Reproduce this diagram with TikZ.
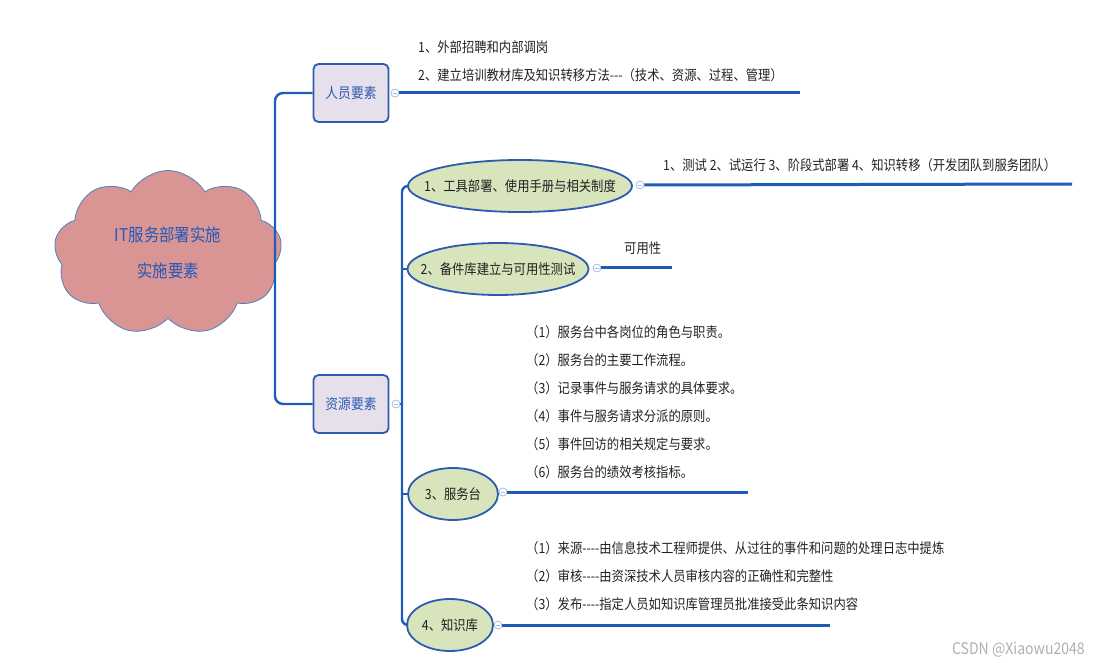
\documentclass[tikz,border=0pt]{standalone}
\usepackage{fontspec}
\setmainfont{Noto Sans CJK SC}[FakeStretch=0.88]
\usepackage{xcolor}
\usetikzlibrary{shapes.geometric, shapes.symbols, positioning, calc}
\definecolor{linkblue}{HTML}{1F5CBA}
\definecolor{boxedge}{HTML}{2C5BB0}
\definecolor{boxfill}{HTML}{E5E0EC}
\definecolor{leaffill}{HTML}{D8E4BC}
\definecolor{cloudfill}{HTML}{D99594}
\definecolor{cloudedge}{HTML}{4F81BD}
\definecolor{cloudtext}{HTML}{2458B8}
\definecolor{toggleedge}{HTML}{A7BCE3}
\definecolor{marktext}{HTML}{B0B0B0}
\definecolor{notetext}{HTML}{222222}
\newcommand{\dashes}{-\kern0pt-\kern0pt-}
\newcommand{\longdashes}{-\kern0pt-\kern0pt-\kern0pt-}

\begin{document}
\begin{tikzpicture}[
    x=1pt, y=-1pt,
    % Node styles
    topic/.style={cloud, cloud puffs=9, cloud puff arc=120, aspect=1.4, draw=cloudedge, fill=cloudfill, thick, minimum width=228pt, minimum height=165pt, align=center, font=\fontsize{17.5}{36}\selectfont, text=cloudtext},
    branch/.style={rectangle, draw=boxedge, fill=boxfill, line width=1.8pt, minimum width=75pt, minimum height=58pt, rounded corners=5pt, align=center, font=\fontsize{14.5}{15}\selectfont, text=boxedge},
    leaf/.style={ellipse, draw=boxedge, fill=leaffill, line width=1.8pt, minimum height=52pt, inner xsep=-40pt, align=center, font=\fontsize{14}{15}\selectfont, text=notetext},
    toggle/.style={circle, draw=toggleedge, fill=white, line width=0.8pt, minimum size=8pt, inner sep=0pt, path picture={\draw[toggleedge, line width=0.8pt] ([xshift=-2pt]path picture bounding box.center) -- ([xshift=2pt]path picture bounding box.center);}},
    note/.style={anchor=south west, inner sep=0pt, align=left, font=\fontsize{14}{28}\selectfont, text=notetext},
    % Connector styles
    trunk/.style={draw=linkblue, line width=2.4pt, rounded corners=8pt},
    stem/.style={draw=linkblue, line width=3pt},
]
\useasboundingbox (0,0) rectangle (1098,663);

% ============================================================================
% CENTRAL TOPIC
% ============================================================================
\node[topic] (cloudtopic) at (168,253) {IT服务部署实施\\实施要素};

% ============================================================================
% FIRST LEVEL
% ============================================================================
\node[branch] (staff) at (351,93) {人员要素};
\node[branch] (resource) at (351,404) {资源要素};

% Trunk from the topic
\draw[trunk] (staff.west) -- (275,93) -- (275,404) -- (resource.west);

% ============================================================================
% STAFF DETAILS
% ============================================================================
\node[toggle] (stafftoggle) at (395,93) {};
\coordinate (staffend) at (800,93);
\draw[stem] (stafftoggle.east) -- (staffend);
\node[note] (staffnote) at (418,82) {1、外部招聘和内部调岗\\2、建立培训教材库及知识转移方法\dashes（技术、资源、过程、管理）};

% ============================================================================
% RESOURCE ITEMS
% ============================================================================
\node[toggle] (resourcetoggle) at (396,404) {};

\node[leaf, minimum width=224pt] (tools) at (520,186) {1、工具部署、使用手册与相关制度};
\node[leaf, minimum width=181pt] (spare) at (498,269) {2、备件库建立与可用性测试};
\node[leaf, minimum width=90pt] (desk) at (453,494) {3、服务台};
\node[leaf, minimum width=86pt] (kb) at (450,625) {4、知识库};

% Resource bus
\draw[trunk, rounded corners=6pt] (tools.west) -- (402,186) -- (402,625) -- (kb.west);
\draw[trunk] (spare.west) -- (402,269);
\draw[trunk] (desk.west) -- (402,494);
\draw[trunk] (resourcetoggle.east) -- (402,404);

% Toggles on the items
\node[toggle] (toolstoggle) at (640,185) {};
\node[toggle] (sparetoggle) at (597,268) {};
\node[toggle] (desktoggle) at (503,492) {};
\node[toggle] (kbtoggle) at (498,625) {};

\coordinate (toolsend) at (1072,184);
\coordinate (spareend) at (672,268);
\coordinate (deskend) at (748,492);
\coordinate (kbend) at (830,625);

\draw[stem] (toolstoggle.east) -- (toolsend);
\draw[stem] (sparetoggle.east) -- (spareend);
\draw[stem] (desktoggle.east) -- (deskend);
\draw[stem] (kbtoggle.east) -- (kbend);

% Item notes
\node[note] (toolsnote) at (663,172) {1、测试 2、试运行 3、阶段式部署 4、知识转移（开发团队到服务团队）};
\node[note] (sparenote) at (624,255) {可用性};
\node[note] (desknote) at (526,479) {（1）服务台中各岗位的角色与职责。\\（2）服务台的主要工作流程。\\（3）记录事件与服务请求的具体要求。\\（4）事件与服务请求分派的原则。\\（5）事件回访的相关规定与要求。\\（6）服务台的绩效考核指标。};
\node[note] (kbnote) at (526,611) {（1）来源\longdashes 由信息技术工程师提供、从过往的事件和问题的处理日志中提炼\\（2）审核\longdashes 由资深技术人员审核内容的正确性和完整性\\（3）发布\longdashes 指定人员如知识库管理员批准接受此条知识内容};

% Watermark
\node[anchor=south east, inner sep=0pt, font=\fontsize{16}{18}\selectfont, text=marktext] (watermark) at (1085,657) {CSDN @Xiaowu2048};

\end{tikzpicture}
\end{document}
